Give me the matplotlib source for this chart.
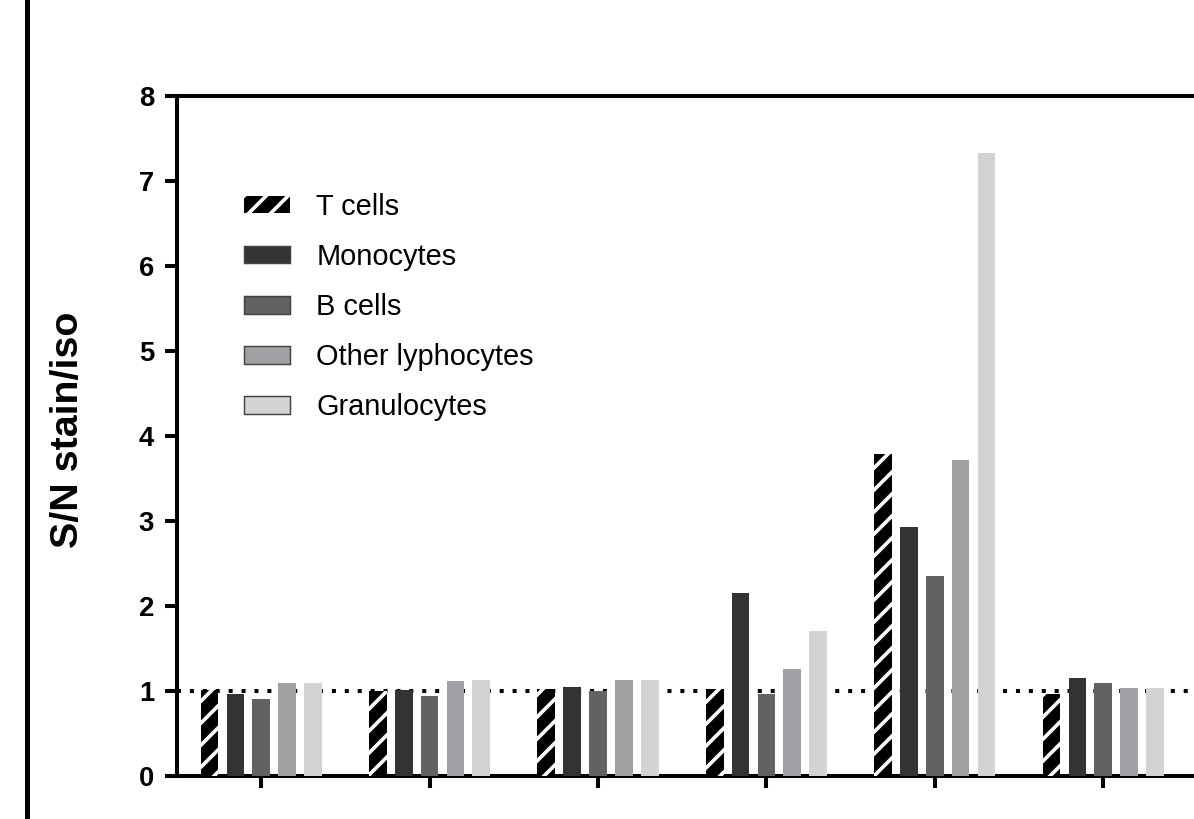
import matplotlib.pyplot as plt
from matplotlib.patches import Patch
from matplotlib.lines import Line2D
import numpy as np

# S/N ratios (stain over isotype) per cell population
groups = ['', '', '', '', '', '']
t_cells = [1.01, 1.00, 1.02, 1.03, 3.79, 0.96]
monocytes = [0.97, 1.01, 1.05, 2.16, 2.93, 1.15]
b_cells = [0.91, 0.94, 1.00, 0.96, 2.36, 1.09]
other_lympho = [1.10, 1.12, 1.13, 1.26, 3.72, 1.04]
granulocytes = [1.09, 1.13, 1.13, 1.71, 7.33, 1.04]

series_names = ['T cells', 'Monocytes', 'B cells', 'Other lyphocytes', 'Granulocytes']
series_vals = [t_cells, monocytes, b_cells, other_lympho, granulocytes]
colors = ['black', '#333333', '#626262', '#a1a0a5', '#d3d3d3']

DPI = 132
W, H = 1194, 819
plt.rcParams['font.family'] = ['Liberation Sans', 'DejaVu Sans']
plt.rcParams['hatch.linewidth'] = 2.0
plt.rcParams['hatch.color'] = 'white'

fig = plt.figure(figsize=(W / DPI, H / DPI), dpi=DPI)

# axes run off the right side of the canvas
px = 168.4
left, right_x = 177, 177 + 7 * px
y0, y8 = 776, 96.5
ax = fig.add_axes([left / W, 1 - y0 / H, (right_x - left) / W, (y0 - y8) / H])

x = np.arange(len(groups))
pitch, bw = 0.1535, 0.105
for i, (name, vals) in enumerate(zip(series_names, series_vals)):
    pos = x + (i - 2) * pitch
    if i == 0:
        ax.bar(pos, vals, bw, color='black', edgecolor='white', hatch='//', linewidth=0, zorder=3)
    else:
        ax.bar(pos, vals, bw, color=colors[i], linewidth=0, zorder=3)

# reference line at S/N = 1
ax.axhline(1, color='black', lw=2.2, linestyle=(0, (1, 2.2)), dash_capstyle='butt', zorder=2)

ax.set_xlim(-0.5, 6.5)
ax.set_ylim(0, 8)
ax.set_yticks(range(0, 9))
ax.set_xticks(x)
ax.set_xticklabels(groups)

for s in ['left', 'bottom', 'top']:
    ax.spines[s].set_linewidth(2.2)
ax.spines['right'].set_visible(False)
ax.tick_params(axis='both', length=6.5, width=2.2, labelsize=15, pad=6)
for lab in ax.get_yticklabels():
    lab.set_fontweight('bold')

fig.text(68 / W, 1 - 430 / H, 'S/N stain/iso', rotation=90, fontsize=21.5,
         fontweight='bold', ha='center', va='center')

# legend
handles = [Patch(facecolor='black', edgecolor='white', hatch='//', linewidth=0)]
for c in colors[1:]:
    handles.append(Patch(facecolor=c, edgecolor='#444444', linewidth=0.8))
fig.legend(handles, series_names, loc='upper left',
           bbox_to_anchor=(244 / W, 1 - 193 / H), bbox_transform=fig.transFigure,
           frameon=False, fontsize=15.8, handlelength=1.6, handleheight=0.55,
           handletextpad=0.9, labelspacing=0.76, borderpad=0, borderaxespad=0)

# frame line along the left edge
fig.add_artist(Line2D([26.5 / W, 26.5 / W], [0, 1], color='black', lw=2.7,
                      transform=fig.transFigure))

fig.savefig('out.png', dpi=DPI)
